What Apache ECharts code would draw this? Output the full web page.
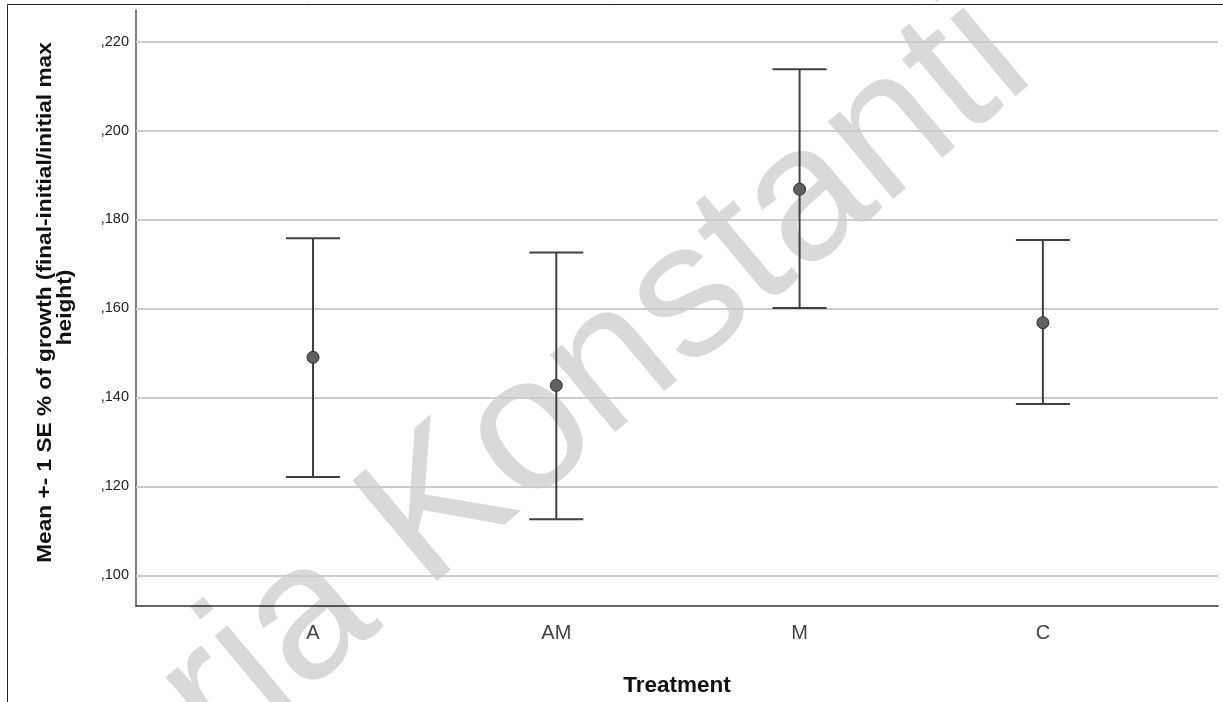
<!DOCTYPE html>
<html>
<head>
<meta charset="utf-8">
<title>Mean ± 1 SE growth by treatment</title>
<script src="https://cdn.jsdelivr.net/npm/echarts@6/dist/echarts.min.js"></script>
<style>
  html, body { margin: 0; padding: 0; background: #fff; }
  #chart { width: 1223px; height: 702px; }
</style>
</head>
<body>
<div id="chart"></div>
<script>
// Treatment groups and their mean growth with +/- 1 SE bounds
const categories = ['A', 'AM', 'M', 'C'];
const means = [0.1490, 0.1427, 0.1868, 0.1568];
const upperSE = [0.1758, 0.1726, 0.2138, 0.1754];
const lowerSE = [0.1221, 0.1126, 0.1601, 0.1385];
const yTicks = [0.10, 0.12, 0.14, 0.16, 0.18, 0.20, 0.22];
const yTitleLines = ['Mean +- 1 SE % of growth (final-initial/initial max', 'height)'];
const xTitle = 'Treatment';
const watermarkText = 'Maria Konstanti';

const FONT = '"Liberation Sans", Arial, Helvetica, sans-serif';
const chart = echarts.init(document.getElementById('chart'), null, { renderer: 'canvas' });

const barStyle = { stroke: '#404040', lineWidth: 2 };
const CAP_HALF = 27;

// watermark placement: text runs up-right at 40 degrees
const wmSize = 192;
const wmAngle = 40 * Math.PI / 180;
const wmX = 440 - 3.111 * wmSize * Math.cos(wmAngle);
const wmY = 510 + 3.111 * wmSize * Math.sin(wmAngle);

// rotated y title, slightly stretched along its reading direction
const yTitleStyle = {
  font: 'bold 19.5px ' + FONT,
  fill: '#111',
  textAlign: 'center',
  textVerticalAlign: 'middle'
};

const option = {
  backgroundColor: '#ffffff',
  animation: false,
  grid: { left: 136, right: 5, top: 10, bottom: 94, containLabel: false },
  xAxis: {
    type: 'value',
    min: -0.7275,
    max: 3.7197,
    name: xTitle,
    nameLocation: 'middle',
    nameGap: 68,
    nameTextStyle: { fontFamily: FONT, fontSize: 22.5, fontWeight: 'bold', color: '#111' },
    axisLine: { show: true, onZero: false, lineStyle: { color: '#333', width: 1.5 } },
    axisTick: { show: false, customValues: [0, 1, 2, 3] },
    splitLine: { show: false },
    axisLabel: {
      customValues: [0, 1, 2, 3],
      formatter: v => categories[Math.round(v)],
      fontFamily: FONT, fontSize: 20, color: '#444', margin: 17
    }
  },
  yAxis: {
    type: 'value',
    min: 0.0931,
    max: 0.2271,
    axisLine: { show: true, onZero: false, lineStyle: { color: '#555', width: 1.5 } },
    axisTick: { show: false, customValues: yTicks },
    splitLine: { show: false },
    axisLabel: {
      customValues: yTicks,
      formatter: v => ',' + v.toFixed(3).split('.')[1],
      fontFamily: FONT, fontSize: 14.5, color: '#222', margin: 7
    }
  },
  graphic: [
    {
      type: 'polyline',
      silent: true,
      z: 10,
      shape: { points: [[7.5, 702], [7.5, 4.5], [1223, 4.5]] },
      style: { stroke: '#222', lineWidth: 1, fill: null }
    },
    {
      type: 'text',
      silent: true,
      z: 10,
      x: 46, y: 302.5,
      rotation: Math.PI / 2,
      scaleX: 1.162,
      style: Object.assign({ text: yTitleLines[0] }, yTitleStyle)
    },
    {
      type: 'text',
      silent: true,
      z: 10,
      x: 65.5, y: 307.5,
      rotation: Math.PI / 2,
      scaleX: 1.162,
      style: Object.assign({ text: yTitleLines[1] }, yTitleStyle)
    },
    {
      type: 'text',
      silent: true,
      z: 1,
      x: wmX,
      y: wmY,
      rotation: wmAngle,
      style: {
        text: watermarkText,
        font: 'normal ' + wmSize + 'px ' + FONT,
        fill: 'rgba(0,0,0,0.15)',
        textAlign: 'left',
        textVerticalAlign: 'middle'
      }
    }
  ],
  series: [
    {
      // horizontal reference lines at each labelled value
      type: 'line',
      data: [],
      silent: true,
      z: 0,
      markLine: {
        silent: true,
        z: 1,
        symbol: ['none', 'none'],
        label: { show: false },
        lineStyle: { color: '#cccccc', width: 2, type: 'solid' },
        data: yTicks.map(v => ({ yAxis: v }))
      }
    },
    {
      type: 'custom',
      z: 6,
      data: categories.map((c, i) => [i, lowerSE[i], upperSE[i]]),
      encode: { x: 0, y: [1, 2] },
      renderItem: (params, api) => {
        const x = api.value(0);
        const hi = api.coord([x, api.value(2)]);
        const lo = api.coord([x, api.value(1)]);
        return {
          type: 'group',
          children: [
            { type: 'line', shape: { x1: hi[0], y1: hi[1], x2: lo[0], y2: lo[1] }, style: barStyle },
            { type: 'line', shape: { x1: hi[0] - CAP_HALF, y1: hi[1], x2: hi[0] + CAP_HALF, y2: hi[1] }, style: barStyle },
            { type: 'line', shape: { x1: lo[0] - CAP_HALF, y1: lo[1], x2: lo[0] + CAP_HALF, y2: lo[1] }, style: barStyle }
          ]
        };
      }
    },
    {
      type: 'scatter',
      z: 7,
      symbol: 'circle',
      symbolSize: 12,
      data: means.map((m, i) => [i, m]),
      itemStyle: { color: '#606060', borderColor: '#2e2e2e', borderWidth: 1, opacity: 1 }
    }
  ]
};

chart.setOption(option);
</script>
</body>
</html>
